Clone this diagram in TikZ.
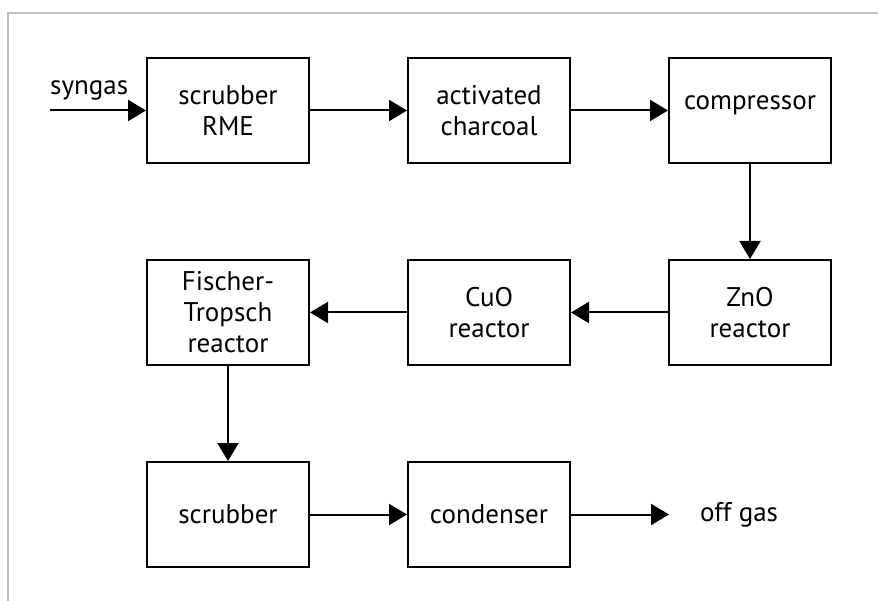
\documentclass[tikz,border=0pt]{standalone}
\usepackage{fontspec}
\setmainfont{PT Sans}
\usetikzlibrary{arrows.meta}
\begin{document}
\begin{tikzpicture}[x=1pt,y=-1pt,
  blk/.style={draw=black,line width=2pt,minimum width=162pt,minimum height=105pt,anchor=north west,align=center,font=\fontsize{27}{31}\selectfont,inner sep=0pt},
  flow/.style={line width=2pt,-{Triangle[length=18pt,width=21pt]}},
  lbl/.style={font=\fontsize{27}{31}\selectfont,inner sep=0pt}]
\useasboundingbox (0,0) rectangle (878,601);
\draw[line width=1.5pt,draw={rgb,255:red,190;green,190;blue,190}] (878,13) -- (8,13) -- (8,601);
\node[blk] (b1) at (146,57) {scrubber\\RME};
\node[blk] (b2) at (407,57) {activated\\charcoal};
\node[blk,text height=14pt,text depth=15pt] (b3) at (668,57) {compressor};
\node[blk] (b4) at (668,259) {ZnO\\reactor};
\node[blk] (b5) at (407,259) {CuO\\reactor};
\node[blk] (b6) at (146,259) {Fischer-\\Tropsch\\reactor};
\node[blk] (b7) at (146,461) {scrubber};
\node[blk] (b8) at (407,461) {condenser};
\path (b1.west) ++(-96,0) coordinate (in);
\path (b8.east) ++(98,0) coordinate (out);
\node[lbl,anchor=south west] (syn) at (50,100) {syngas};
\node[lbl,anchor=west] (off) at (700,514.5) {off gas};
\draw[flow] (in) -- (b1.west);
\draw[flow] (b1) -- (b2);
\draw[flow] (b2) -- (b3);
\draw[flow] (b3) -- (b4);
\draw[flow] (b4) -- (b5);
\draw[flow] (b5) -- (b6);
\draw[flow] (b6) -- (b7);
\draw[flow] (b7) -- (b8);
\draw[flow] (b8.east) -- (out);
\end{tikzpicture}
\end{document}
